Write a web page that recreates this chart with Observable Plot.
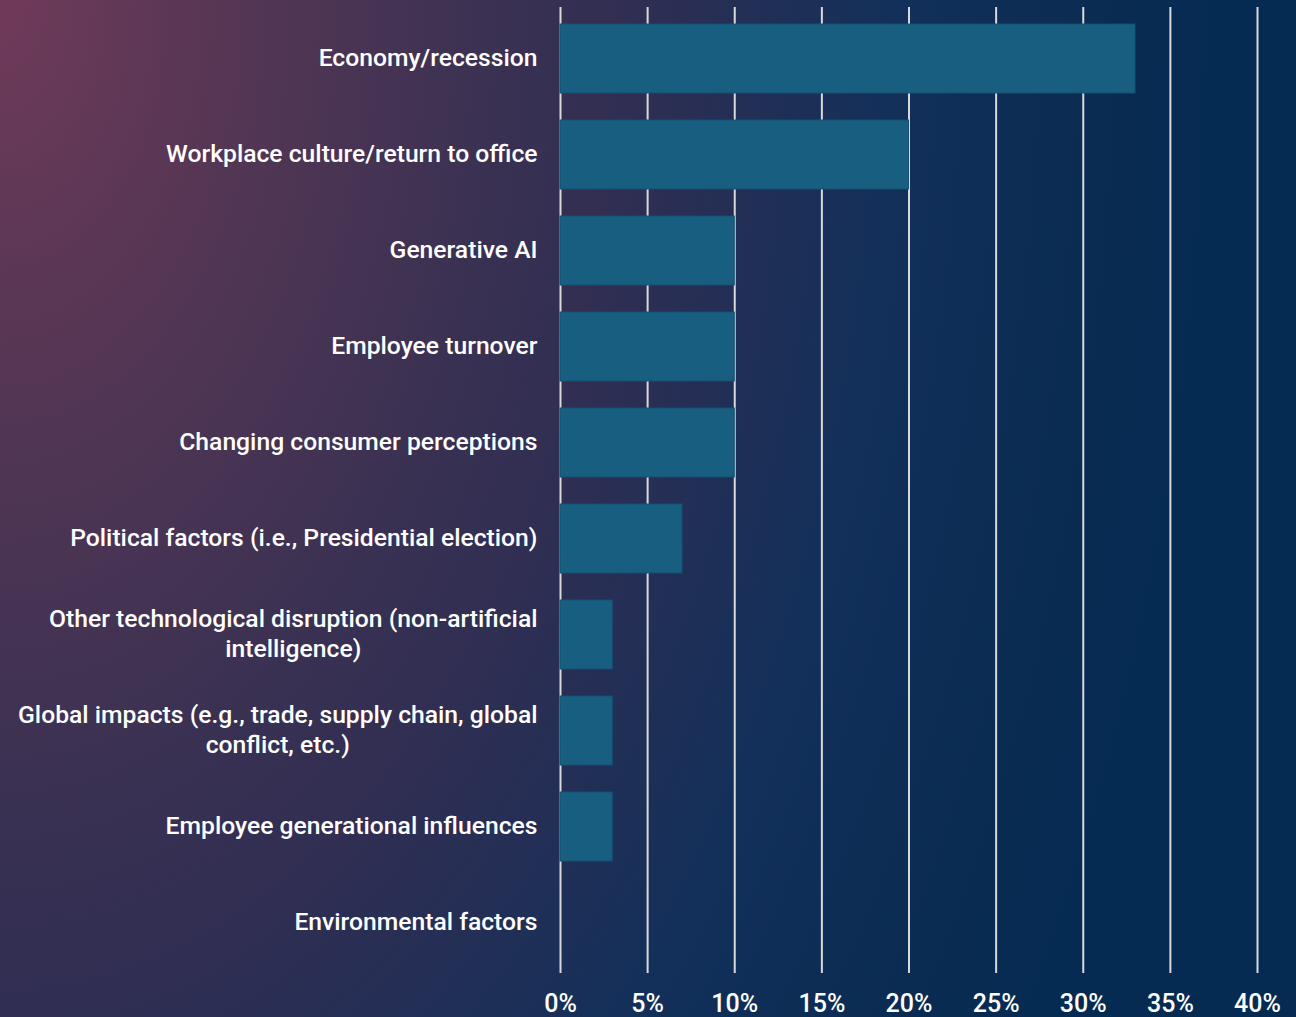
<!DOCTYPE html>
<html><head><meta charset="utf-8">
<script src="https://cdn.jsdelivr.net/npm/d3@7"></script>
<script src="https://cdn.jsdelivr.net/npm/@observablehq/plot@0.6"></script>
<style>
html,body{margin:0;padding:0;}
body{width:1296px;height:1017px;overflow:hidden;
background: radial-gradient(ellipse 1250px 2000px at 0 0, #703a5a 0%, #5a3755 15%, #3a3152 40%, #2e2e53 52%, #12305a 72%, #0a2b52 88%, #052b53 100%);}
#chart svg{display:block;}
</style></head><body><div id="chart"></div>
<script>
const categories = [
  "Economy/recession",
  "Workplace culture/return to office",
  "Generative AI",
  "Employee turnover",
  "Changing consumer perceptions",
  "Political factors (i.e., Presidential election)",
  "Other technological disruption (non-artificial\nintelligence)",
  "Global impacts (e.g., trade, supply chain, global\nconflict, etc.)",
  "Employee generational influences",
  "Environmental factors"
];
const values = [33, 20, 10, 10, 10, 7, 3, 3, 3, 0];
const xTicks = [0, 5, 10, 15, 20, 25, 30, 35, 40];

const data = categories.map((c, i) => ({category: c, value: values[i]}));

const chart = Plot.plot({
  width: 1296, height: 1017,
  marginLeft: 560, marginRight: 39, marginTop: 7, marginBottom: 44,
  style: {background: "transparent", color: "#fff", fontFamily: "Roboto, 'Liberation Sans', sans-serif", fontSize: "24px"},
  x: {domain: [0, 40], label: null},
  y: {domain: categories, paddingInner: 0.285, paddingOuter: 0.1425, label: null},
  marks: [
    Plot.ruleX(xTicks, {stroke: "#d9d9d9", strokeWidth: 2}),
    Plot.barX(data, {x: "value", y: "category", fill: "#175e80", stroke: "#13516f", strokeWidth: 1}),
    Plot.axisX({ticks: xTicks, tickSize: 0, tickPadding: 21, tickFormat: d => d + "%", label: null, fontSize: 25, fontWeight: 500, fill: "#fff"}),
    Plot.axisY({tickSize: 0, tickPadding: 23, label: null, fontSize: 24.7, fontWeight: 500, fill: "#fff", lineHeight: 1.22, dy: -3})
  ]
});
document.getElementById("chart").appendChild(chart);

// center the lines of multi-line category labels on their own block
chart.querySelectorAll("g[aria-label='y-axis tick label'] text").forEach(t => {
  const spans = t.querySelectorAll("tspan");
  if (spans.length < 2) return;
  const w = t.getBBox().width;
  t.setAttribute("text-anchor", "middle");
  const tr = t.getAttribute("transform") || "";
  t.setAttribute("transform", tr + ` translate(${-w / 2},0)`);
});
</script>
</body></html>
